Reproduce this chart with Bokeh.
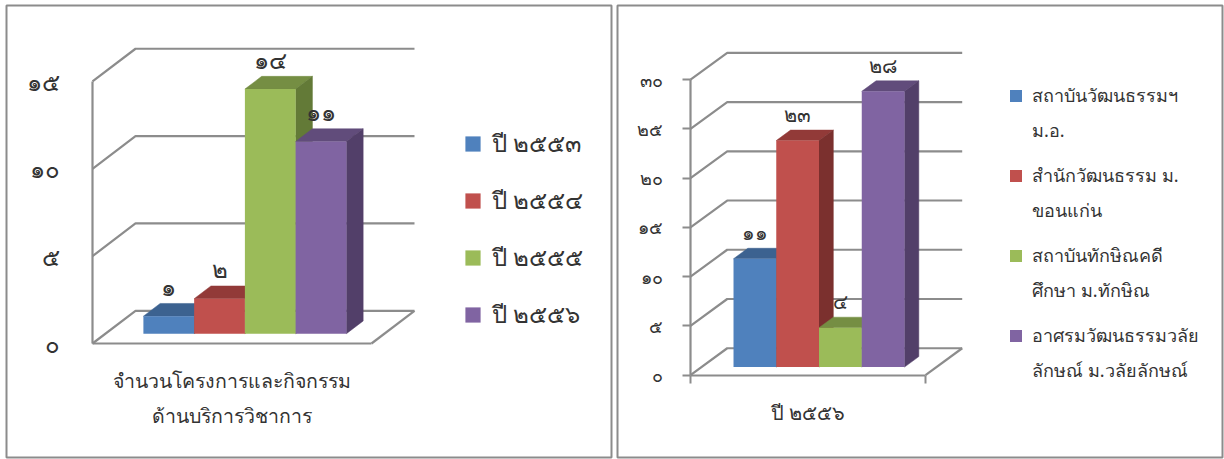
from bokeh.embed import file_html
from bokeh.resources import INLINE
from bokeh.layouts import row
from bokeh.models import (FixedTicker, Legend, LegendItem, LinearAxis, Range1d)
from bokeh.plotting import figure
from bokeh.core.properties import value

FONT = "Noto Sans"
GRAY = "#8C8C8C"
INK = "#333333"
FRONT = ["#4F81BD", "#C0504D", "#9BBB59", "#8064A2"]
TOP = ["#3C6290", "#923A38", "#758E43", "#614C7B"]
SIDE = ["#335478", "#7B302E", "#637A37", "#523F69"]

left_names = ["ปี ๒๕๕๓", "ปี ๒๕๕๔", "ปี ๒๕๕๕", "ปี ๒๕๕๖"]
left_names_2 = []
left_values = [1, 2, 14, 11]
left_value_labels = ["๑", "๒", "๑๔", "๑๑"]
left_ticks = [0, 5, 10, 15]
left_tick_labels = ["๐", "๕", "๑๐", "๑๕"]
left_category = "จำนวนโครงการและกิจกรรม\nด้านบริการวิชาการ"

right_names = ["สถาบันวัฒนธรรมฯ", "สำนักวัฒนธรรม ม.", "สถาบันทักษิณคดี", "อาศรมวัฒนธรรมวลัย"]
right_names_2 = ["ม.อ.", "ขอนแก่น", "ศึกษา ม.ทักษิณ", "ลักษณ์ ม.วลัยลักษณ์"]
right_values = [11, 23, 4, 28]
right_value_labels = ["๑๑", "๒๓", "๔", "๒๘"]
right_ticks = [0, 5, 10, 15, 20, 25, 30]
right_tick_labels = ["๐", "๕", "๑๐", "๑๕", "๒๐", "๒๕", "๓๐"]
right_category = "ปี ๒๕๕๖"


def make_legend(items, cfg, loc):
    return Legend(items=items, location=loc, orientation="vertical",
                  glyph_width=cfg["glyph"], glyph_height=cfg["glyph"],
                  label_standoff=cfg["standoff"], spacing=cfg["spacing"],
                  padding=0, margin=0, border_line_color=None, background_fill_color=None,
                  background_fill_alpha=0,
                  label_text_font=FONT, label_text_font_size=cfg["font"],
                  label_text_color=INK, label_height=cfg["glyph"])


def chart(names, names_2, values, value_labels, ticks, tick_labels, category,
          panel, origin, xscale, yscale, depth, tick_out, fonts, legend_cfg, label_offset):
    pl, pt, pr, pb = panel
    ox, oy = origin
    width = pr - pl + 4
    x_range = Range1d((pl - ox) / xscale, (pr - ox) / xscale)
    y_range = Range1d((oy - pb) / yscale, (oy - pt) / yscale)
    p = figure(width=width, height=456, x_range=x_range, y_range=y_range,
               x_axis_type=None, y_axis_type=None, toolbar_location=None,
               output_backend="svg", min_border_left=2, min_border_right=2,
               min_border_top=2, min_border_bottom=456 - (pb - pt) - 2)
    p.grid.visible = False
    p.outline_line_color = GRAY
    p.outline_line_width = 2
    p.background_fill_color = "white"

    DX = depth[0] / xscale
    DY = depth[1] / yscale

    def proj(x, v, d):
        return x + d * DX, v + d * DY

    # walls and floor
    top = max(ticks)
    xs, ys = [], []
    for t in ticks:
        a = proj(0, t, 0)
        b = proj(0, t, 1)
        c = proj(1, t, 1)
        xs.append([a[0], b[0], c[0]])
        ys.append([a[1], b[1], c[1]])
    a, b = proj(1, 0, 0), proj(1, 0, 1)
    xs.append([a[0], b[0]])
    ys.append([a[1], b[1]])
    p.multi_line(xs, ys, line_color=GRAY, line_width=2.2)

    # bars, drawn from left to right so later ones hide earlier ones
    n = len(values)
    group = 0.7276
    w = group / n
    x0 = (1 - group) / 2
    d0, d1 = 0.30, 0.69
    fronts = []
    for i, v in enumerate(values):
        l, r = x0 + i * w, x0 + (i + 1) * w
        tx, ty = zip(proj(l, v, d0), proj(r, v, d0), proj(r, v, d1), proj(l, v, d1))
        sx, sy = zip(proj(r, 0, d0), proj(r, v, d0), proj(r, v, d1), proj(r, 0, d1))
        p.patch(list(tx), list(ty), fill_color=TOP[i], line_color=TOP[i], line_width=0.5)
        p.patch(list(sx), list(sy), fill_color=SIDE[i], line_color=SIDE[i], line_width=0.5)
        fl, fb = proj(l, 0, d0)
        fr, ft = proj(r, v, d0)
        fronts.append(p.quad(left=[fl], right=[fr], bottom=[fb], top=[ft],
                             fill_color=FRONT[i], line_color=None))

    # value labels
    lx, ly = [], []
    for i, v in enumerate(values):
        cx, cy = proj(x0 + (i + 0.5) * w, v, d0)
        lx.append(cx)
        ly.append(cy)
    p.text(lx, ly, text=value_labels, text_align="center", text_baseline="middle",
           y_offset=-label_offset, text_font=value(FONT), text_font_size=fonts["value"],
           text_color=INK)

    # axes
    yax = LinearAxis(fixed_location=0, bounds=(0, top), ticker=FixedTicker(ticks=ticks),
                     major_label_overrides={t: s for t, s in zip(ticks, tick_labels)})
    yax.axis_line_color = GRAY
    yax.axis_line_width = 2.2
    yax.major_tick_line_color = GRAY
    yax.major_tick_line_width = 2
    yax.major_tick_in = 0
    yax.major_tick_out = tick_out
    yax.minor_tick_out = 0
    yax.minor_tick_in = 0
    yax.major_label_standoff = fonts["ystand"]
    yax.major_label_text_font = FONT
    yax.major_label_text_font_size = fonts["tick"]
    yax.major_label_text_color = INK
    p.add_layout(yax, "left")

    xax = LinearAxis(fixed_location=0, bounds=(0, 1),
                     ticker=FixedTicker(ticks=[0.5], minor_ticks=[0, 1] if tick_out else []),
                     major_label_overrides={0.5: category})
    xax.axis_line_color = GRAY
    xax.axis_line_width = 2.2
    xax.major_tick_line_color = None
    xax.major_tick_in = 0
    xax.major_tick_out = 0
    xax.minor_tick_line_color = GRAY
    xax.minor_tick_line_width = 2
    xax.minor_tick_in = 0
    xax.minor_tick_out = tick_out
    xax.major_label_standoff = fonts["xstand"]
    xax.major_label_text_font = FONT
    xax.major_label_text_font_size = fonts["cat"]
    xax.major_label_text_color = INK
    xax.major_label_text_line_height = fonts["catlh"]
    p.add_layout(xax, "below")

    # legend: swatches with the first text line; a second legend holds wrapped lines
    first = [LegendItem(label=value(nm), renderers=[fr]) for nm, fr in zip(names, fronts)]
    p.add_layout(make_legend(first, legend_cfg, legend_cfg["loc"]), "center")
    if names_2:
        second = [LegendItem(label=value(nm), renderers=[]) for nm in names_2]
        p.add_layout(make_legend(second, legend_cfg, legend_cfg["loc2"]), "center")
    return p


p1 = chart(left_names, left_names_2, left_values, left_value_labels, left_ticks, left_tick_labels, left_category,
           panel=(6, 5, 611, 457), origin=(92, 343), xscale=279, yscale=17.47, depth=(43, 32.7),
           tick_out=0,
           fonts={"value": "24px", "tick": "24px", "cat": "19.5px", "catlh": 1.3, "ystand": 33, "xstand": 23},
           legend_cfg={"loc": (457, 123), "glyph": 19, "standoff": 10, "spacing": 18, "font": "24px"},
           label_offset=30)
p2 = chart(right_names, right_names_2, right_values, right_value_labels, right_ticks, right_tick_labels, right_category,
           panel=(617, 5, 1222, 458), origin=(690, 375.5), xscale=235, yscale=9.87, depth=(36.7, 27),
           tick_out=8,
           fonts={"value": "20px", "tick": "18px", "cat": "20px", "catlh": 1.2, "ystand": 20, "xstand": 16},
           legend_cfg={"loc": (391, 107), "loc2": (391, 72), "glyph": 15, "standoff": 9, "spacing": 51, "font": "18px"},
           label_offset=26)
p1.margin = (3, 0, 0, 4)
p2.margin = (3, 0, 0, 2)
layout = row(p1, p2)
open("out.html", "w").write(file_html(layout, INLINE))
